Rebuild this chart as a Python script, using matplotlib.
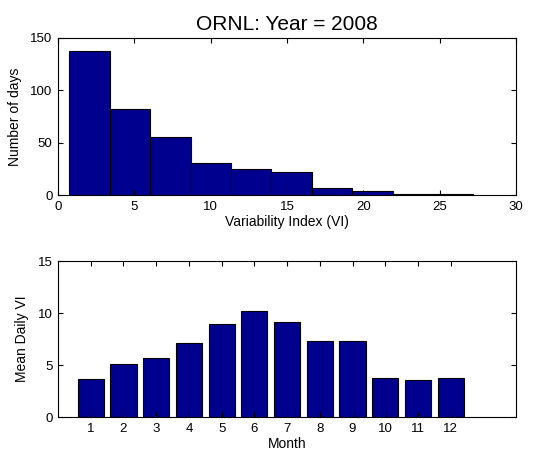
import numpy as np
import matplotlib
matplotlib.use("Agg")
import matplotlib.pyplot as plt

plt.rcParams['font.family'] = ['Liberation Sans', 'DejaVu Sans']

# histogram of daily variability index (10 bins between min and max VI)
vi_min, vi_max = 0.74, 27.2
day_counts = [138, 82, 55, 31, 25, 22, 7, 4, 1, 1]

# mean daily VI per month
months = [1, 2, 3, 4, 5, 6, 7, 8, 9, 10, 11, 12]
mean_vi = [3.64, 5.14, 5.68, 7.15, 8.97, 10.25, 9.10, 7.31, 7.31, 3.77, 3.54, 3.77]

bar_color = (0, 0, 0.5625)

fig = plt.figure(figsize=(5.5, 4.57), dpi=100)
ax1 = fig.add_axes([0.1055, 0.573, 0.833, 0.344])
ax2 = fig.add_axes([0.1055, 0.0875, 0.833, 0.341])

edges = np.linspace(vi_min, vi_max, len(day_counts) + 1)
ax1.bar(edges[:-1], day_counts, width=np.diff(edges), align='edge',
        color=bar_color, edgecolor='black', linewidth=0.8)
ax1.set_xlim(0, 30)
ax1.set_ylim(0, 150)
ax1.set_xticks([0, 5, 10, 15, 20, 25, 30])
ax1.set_yticks([0, 50, 100, 150])
ax1.set_xlabel('Variability Index (VI)', fontsize=10, labelpad=2)
ax1.set_ylabel('Number of days', fontsize=10, labelpad=6)
ax1.set_title('ORNL: Year = 2008', fontsize=15, pad=6)

ax2.bar(months, mean_vi, width=0.8, color=bar_color,
        edgecolor='black', linewidth=0.8)
ax2.set_xlim(0, 14)
ax2.set_ylim(0, 15)
ax2.set_xticks(months)
ax2.set_yticks([0, 5, 10, 15])
ax2.set_xlabel('Month', fontsize=10, labelpad=2)
ax2.set_ylabel('Mean Daily VI', fontsize=10, labelpad=6)

for ax in (ax1, ax2):
    ax.tick_params(direction='in', top=True, right=True, length=3.5,
                   width=0.8, labelsize=9.5, pad=4)
    for s in ax.spines.values():
        s.set_linewidth(0.8)

fig.savefig('out.png', dpi=100)
